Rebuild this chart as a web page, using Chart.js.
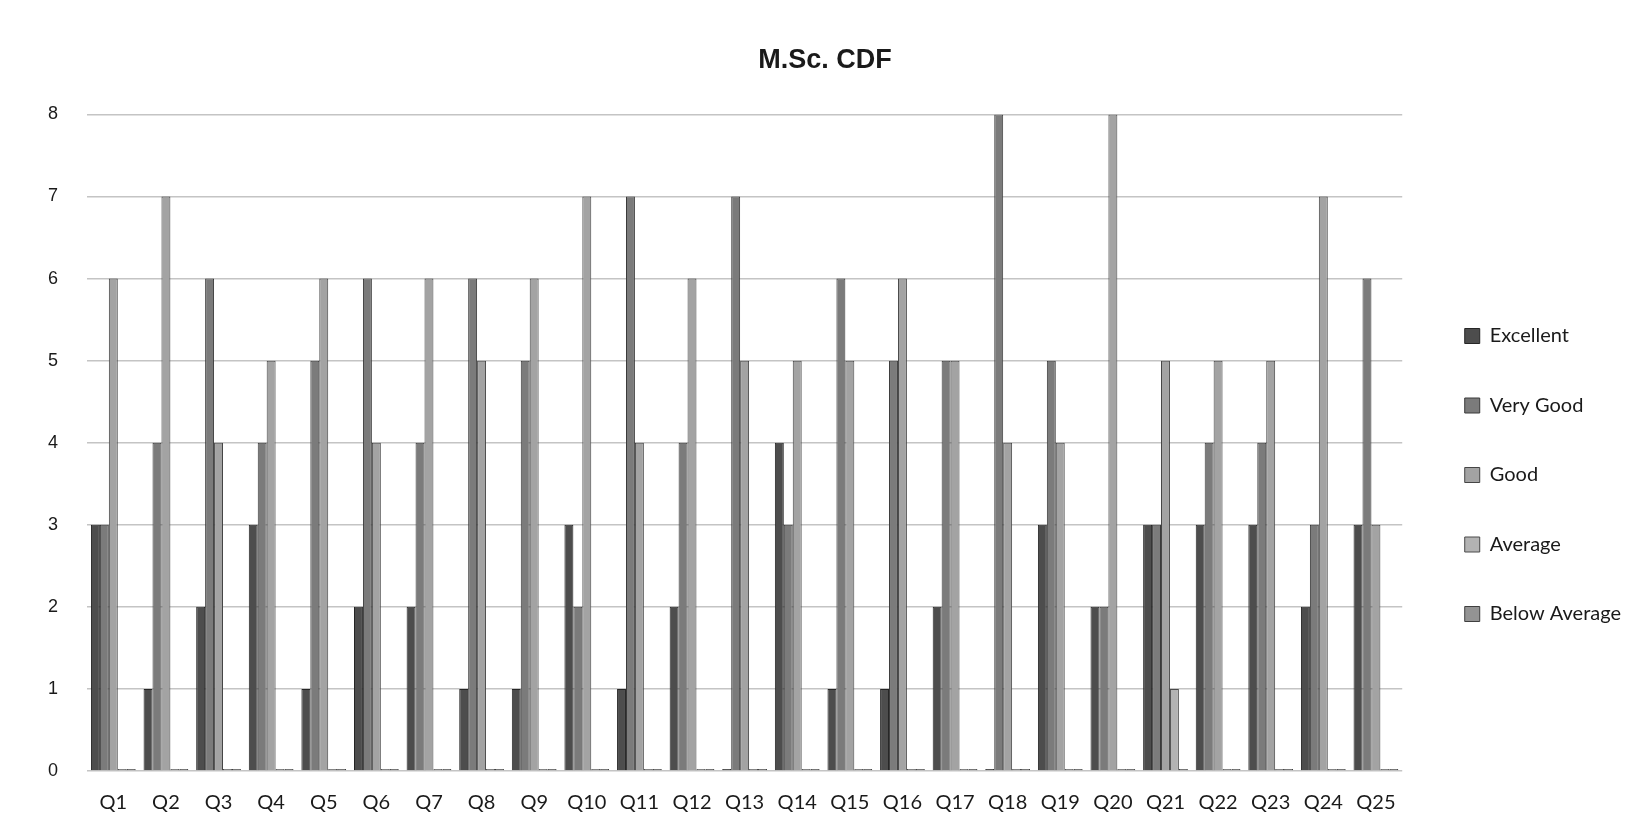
<!DOCTYPE html>
<html>
<head>
<meta charset="utf-8">
<title>M.Sc. CDF</title>
<script src="https://cdn.jsdelivr.net/npm/chart.js@4.4.0/dist/chart.umd.min.js"></script>
<style>
    html, body { margin: 0; padding: 0; background: #fff; }
</style>
</head>
<body>
<canvas id="myChart" width="1636" height="836"></canvas>
<script>
let questions = ["Q1", "Q2", "Q3", "Q4", "Q5", "Q6", "Q7", "Q8", "Q9", "Q10",
    "Q11", "Q12", "Q13", "Q14", "Q15", "Q16", "Q17", "Q18", "Q19", "Q20",
    "Q21", "Q22", "Q23", "Q24", "Q25"];

let excellent    = [3, 1, 2, 3, 1, 2, 2, 1, 1, 3, 1, 2, 0, 4, 1, 1, 2, 0, 3, 2, 3, 3, 3, 2, 3];
let veryGood     = [3, 4, 6, 4, 5, 6, 4, 6, 5, 2, 7, 4, 7, 3, 6, 5, 5, 8, 5, 2, 3, 4, 4, 3, 6];
let good         = [6, 7, 4, 5, 6, 4, 6, 5, 6, 7, 4, 6, 5, 5, 5, 6, 5, 4, 4, 8, 5, 5, 5, 7, 3];
let average      = [0, 0, 0, 0, 0, 0, 0, 0, 0, 0, 0, 0, 0, 0, 0, 0, 0, 0, 0, 0, 1, 0, 0, 0, 0];
let belowAverage = [0, 0, 0, 0, 0, 0, 0, 0, 0, 0, 0, 0, 0, 0, 0, 0, 0, 0, 0, 0, 0, 0, 0, 0, 0];

let yTicks = [0, 1, 2, 3, 4, 5, 6, 7, 8];

function series(label, data, fill, edge) {
    return {
        label: label,
        data: data,
        backgroundColor: fill,
        borderColor: edge,
        borderWidth: 1,
        borderSkipped: "bottom",
        minBarLength: 2,
    };
}

var ctx = document.getElementById("myChart").getContext("2d");

var myChart = new Chart(ctx, {
    type: "bar",
    data: {
        labels: questions,
        datasets: [
            series("Excellent", excellent, "#4d4d4d", "#262626"),
            series("Very Good", veryGood, "#7b7b7b", "#3a3a3a"),
            series("Good", good, "#a3a3a3", "#454545"),
            series("Average", average, "#b3b3b3", "#4a4a4a"),
            series("Below Average", belowAverage, "#939393", "#3f3f3f"),
        ],
    },
    options: {
        responsive: false,
        animation: false,
        layout: {
            padding: { top: 0, left: 19, right: 5, bottom: 0 },
        },
        datasets: {
            bar: {
                categoryPercentage: 0.85,
                barPercentage: 1.0,
            },
        },
        plugins: {
            title: {
                display: true,
                text: "M.Sc. CDF",
                color: "#1a1a1a",
                font: { family: "'Liberation Sans', Arial, sans-serif", size: 27, weight: "bold" },
                padding: { top: 44, bottom: 38 },
            },
            legend: {
                position: "right",
                // empty legend title only pushes the items down
                title: {
                    display: true,
                    text: "",
                    font: { size: 10 },
                    padding: { top: 0, bottom: 102 },
                },
                labels: {
                    color: "#1a1a1a",
                    font: { family: "Lato, 'Open Sans', sans-serif", size: 20 },
                    boxWidth: 15,
                    boxHeight: 15,
                    padding: 49.5,
                },
            },
            tooltip: { enabled: false },
        },
        scales: {
            x: {
                grid: { display: false },
                border: { display: false },
                ticks: {
                    color: "#1a1a1a",
                    font: { family: "Lato, 'Open Sans', sans-serif", size: 20 },
                    padding: 12,
                    maxRotation: 0,
                    autoSkip: false,
                },
                afterFit: (scale) => { scale.height = 65; },
            },
            y: {
                min: 0,
                max: 8,
                afterBuildTicks: (scale) => {
                    scale.ticks = yTicks.map(v => ({ value: v }));
                },
                grid: { color: "#c4c4c4", lineWidth: 1.5, drawTicks: false },
                border: { display: false },
                ticks: {
                    color: "#1a1a1a",
                    font: { family: "'Liberation Sans', Arial, sans-serif", size: 18 },
                    padding: 29,
                },
            },
            // empty spacer between the plot and the legend
            gap: {
                type: "linear",
                position: "right",
                grid: { display: false },
                border: { display: false },
                ticks: { display: false },
                afterFit: (scale) => { scale.width = 13; },
            },
        },
    },
});
</script>
</body>
</html>
